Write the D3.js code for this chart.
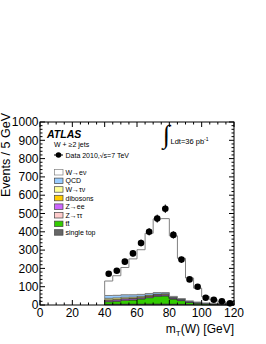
<!DOCTYPE html>
<html>
<head>
<meta charset="utf-8">
<script src="https://cdn.jsdelivr.net/npm/d3@7"></script>
<style>
  body { margin: 0; background: #fff; }
  svg { display: block; font-family: "Liberation Sans", Arial, Helvetica, sans-serif; }
</style>
</head>
<body>
<div id="chart"></div>
<script>
// bins of m_T(W), 5 GeV wide
const binLow = [40, 45, 50, 55, 60, 65, 70, 75, 80, 85, 90, 95, 100, 105, 110, 115];
const binWidth = 5;

// data 2010
const dataCounts = [171, 187, 237, 282, 339, 400, 472, 526, 383, 248, 140, 100, 40, 29, 20, 9];

// MC stack, bottom to top
const singleTop = [4, 4, 5, 5, 5, 6, 6, 6, 5, 4, 3, 2, 1, 1, 1, 0.5];
const ttbar = [14, 16, 20, 22, 28, 34, 42, 44, 28, 20, 12, 8, 6, 4, 3, 2];
const ztautau = [2, 2, 2, 2, 2, 2, 1, 1, 1, 1, 0.5, 0.5, 0.3, 0.3, 0.2, 0.2];
const zee = [6, 6, 6, 6, 5, 5, 5, 5, 4, 3, 2, 2, 1, 1, 1, 1];
const dibosons = [3, 3, 3, 3, 3, 3, 3, 3, 2, 2, 1, 1, 1, 0.5, 0.5, 0.5];
const wtaunu = [8, 8, 7, 6, 5, 4, 3, 3, 2, 1, 1, 0.5, 0.3, 0.2, 0.2, 0.1];
const qcd = [15, 14, 13, 12, 10, 9, 8, 6, 5, 4, 3, 2, 1.5, 1, 1, 0.5];
const wenu = [79, 107, 149, 196, 244, 329, 402, 404, 331, 220, 125, 76, 34, 20, 11, 5];

const xTicks = [0, 20, 40, 60, 80, 100, 120];
const yTicks = [0, 100, 200, 300, 400, 500, 600, 700, 800, 900, 1000];

const stackKeys = ["singleTop", "ttbar", "ztautau", "zee", "dibosons", "wtaunu", "qcd", "wenu"];
const series = { singleTop, ttbar, ztautau, zee, dibosons, wtaunu, qcd, wenu };
const fills = {
  wenu: "#ffffff", qcd: "#99ccff", wtaunu: "#ffff99", dibosons: "#ffcc00",
  zee: "#cc66ff", ztautau: "#ffcccc", ttbar: "#33cc00", singleTop: "#666666"
};
const legendItems = [
  ["wenu", "W\u2192e\u03bd"], ["qcd", "QCD"], ["wtaunu", "W\u2192\u03c4\u03bd"],
  ["dibosons", "dibosons"], ["zee", "Z\u2192ee"], ["ztautau", "Z\u2192\u03c4\u03c4"],
  ["ttbar", "tt\u0304"], ["singleTop", "single top"]
];

const W = 266, H = 344;
const plot = { left: 40, right: 234, top: 122, bottom: 305 };

const svg = d3.select("#chart").append("svg")
  .attr("width", W).attr("height", H);

const x = d3.scaleLinear().domain([0, 120]).range([plot.left, plot.right]);
const y = d3.scaleLinear().domain([0, 1000]).range([plot.bottom, plot.top]);

// stacked histograms
const rows = binLow.map((b, i) => {
  const r = { lo: b };
  stackKeys.forEach(k => r[k] = series[k][i]);
  return r;
});
const stacked = d3.stack().keys(stackKeys)(rows);

const area = d3.area()
  .x(d => x(d.x))
  .y0(d => y(d.y0))
  .y1(d => y(d.y1));

stacked.forEach(layer => {
  const pts = [];
  layer.forEach(s => {
    pts.push({ x: s.data.lo, y0: s[0], y1: s[1] });
    pts.push({ x: s.data.lo + binWidth, y0: s[0], y1: s[1] });
  });
  svg.append("path")
    .datum(pts)
    .attr("d", area)
    .attr("fill", fills[layer.key])
    .attr("stroke", layer.key === "wenu" ? "#808080" : "#333")
    .attr("stroke-width", layer.key === "wenu" ? 1 : 0.5);
});

// data points
const dataG = svg.append("g");
dataG.selectAll("line")
  .data(dataCounts)
  .join("line")
  .attr("x1", (d, i) => x(binLow[i] + binWidth / 2))
  .attr("x2", (d, i) => x(binLow[i] + binWidth / 2))
  .attr("y1", d => y(d - Math.sqrt(d)))
  .attr("y2", d => y(d + Math.sqrt(d)))
  .attr("stroke", "#000");
dataG.selectAll("circle")
  .data(dataCounts)
  .join("circle")
  .attr("cx", (d, i) => x(binLow[i] + binWidth / 2))
  .attr("cy", d => y(d))
  .attr("r", 3.3)
  .attr("fill", "#000");

// frame + ticks
svg.append("rect")
  .attr("x", plot.left).attr("y", plot.top)
  .attr("width", plot.right - plot.left).attr("height", plot.bottom - plot.top)
  .attr("fill", "none").attr("stroke", "#000");

const xMinor = d3.range(0, 121, 5);
const yMinor = d3.range(0, 1001, 20);
const tickG = svg.append("g").attr("stroke", "#000").attr("stroke-width", 1);
xMinor.forEach(v => {
  const len = v % 20 === 0 ? 5 : 2.5;
  tickG.append("line").attr("x1", x(v)).attr("x2", x(v)).attr("y1", plot.bottom).attr("y2", plot.bottom - len);
  tickG.append("line").attr("x1", x(v)).attr("x2", x(v)).attr("y1", plot.top).attr("y2", plot.top + len);
});
yMinor.forEach(v => {
  const len = v % 100 === 0 ? 5 : 2.5;
  tickG.append("line").attr("x1", plot.left).attr("x2", plot.left + len).attr("y1", y(v)).attr("y2", y(v));
  tickG.append("line").attr("x1", plot.right).attr("x2", plot.right - len).attr("y1", y(v)).attr("y2", y(v));
});

// tick labels
svg.append("g").attr("font-size", 12).attr("text-anchor", "middle")
  .selectAll("text").data(xTicks).join("text")
  .attr("x", d => x(d)).attr("y", 316.5)
  .text(d => d);
svg.append("g").attr("font-size", 12).attr("text-anchor", "end")
  .selectAll("text").data(yTicks).join("text")
  .attr("x", 38.5).attr("y", d => y(d)).attr("dy", "0.35em")
  .text(d => d);

// axis titles
svg.append("text")
  .attr("transform", "translate(10,113) rotate(-90)")
  .attr("text-anchor", "end").attr("font-size", 12.5)
  .text("Events / 5 GeV");

const xt = svg.append("text")
  .attr("x", plot.right).attr("y", 333)
  .attr("text-anchor", "end").attr("font-size", 12);
xt.append("tspan").text("m");
xt.append("tspan").attr("font-size", 8).attr("dy", 3).text("T");
xt.append("tspan").attr("dy", -3).text("(W) [GeV]");

// labels
svg.append("text")
  .attr("x", 47).attr("y", 137.5)
  .attr("font-size", 10.5).attr("font-weight", "bold").attr("font-style", "italic")
  .text("ATLAS");
svg.append("text")
  .attr("x", 54).attr("y", 146.5).attr("font-size", 7)
  .text("W + \u22652 jets");

svg.append("text")
  .attr("x", 163).attr("y", 143)
  .attr("font-family", "Liberation Serif").attr("font-size", 26)
  .text("\u222b");
const lumi = svg.append("text")
  .attr("x", 170.5).attr("y", 144).attr("font-size", 7.5);
lumi.append("tspan").text("Ldt=36 pb");
lumi.append("tspan").attr("font-size", 5).attr("dy", -3).text("-1");

// legend
const lg = svg.append("g");
lg.append("line").attr("x1", 54).attr("x2", 63).attr("y1", 155).attr("y2", 155).attr("stroke", "#000");
lg.append("circle").attr("cx", 58.5).attr("cy", 155).attr("r", 2.8).attr("fill", "#000");
lg.append("text").attr("x", 65.5).attr("y", 157.5).attr("font-size", 7)
  .text("Data 2010,\u221as=7 TeV");

lg.selectAll("rect.box")
  .data(legendItems)
  .join("rect")
  .attr("class", "box")
  .attr("x", 54.5)
  .attr("y", (d, i) => 169.5 + i * 8.6)
  .attr("width", 8.5).attr("height", 5.5)
  .attr("fill", d => fills[d[0]])
  .attr("stroke", d => d[0] === "wenu" ? "#808080" : "#444")
  .attr("stroke-width", 0.7);
lg.selectAll("text.lab")
  .data(legendItems)
  .join("text")
  .attr("class", "lab")
  .attr("x", 65.5)
  .attr("y", (d, i) => 174.8 + i * 8.6)
  .attr("font-size", 7)
  .text(d => d[1]);
</script>
</body>
</html>
